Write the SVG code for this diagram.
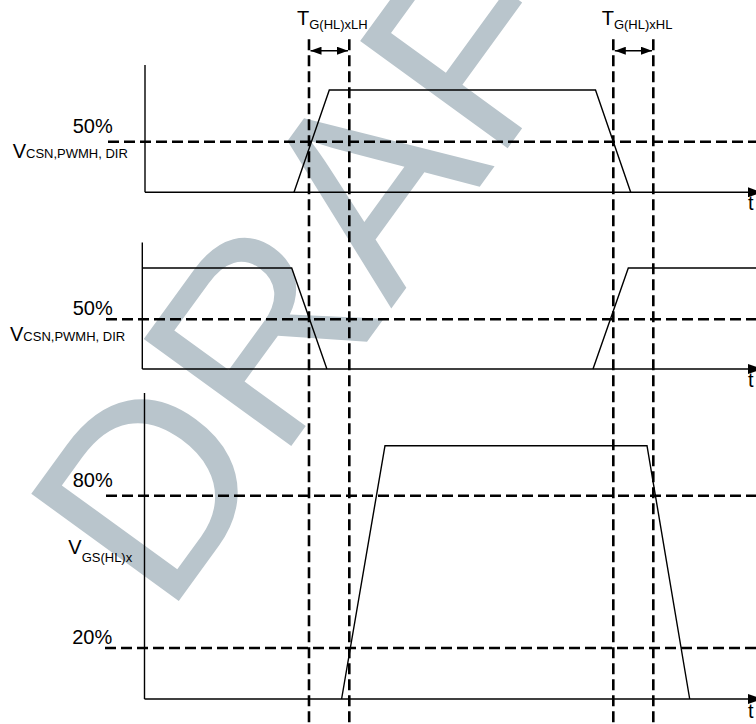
<svg xmlns="http://www.w3.org/2000/svg" width="756" height="724" viewBox="0 0 756 724">
  <style>
    .bg { fill: #ffffff; }
    .wm { fill: #b9c5cc; font-family: "Liberation Sans", Arial, sans-serif; font-size: 265px; }
    .axis { stroke: #000; stroke-width: 1.4; fill: none; }
    .wave { stroke: #000; stroke-width: 1.4; fill: none; stroke-linejoin: miter; }
    .dash { stroke: #000; stroke-width: 2.6; fill: none; stroke-dasharray: 11 5; }
    .dim { stroke: #000; stroke-width: 1.4; fill: none; }
    .lbl { font-family: "Liberation Sans", Arial, sans-serif; font-size: 20px; fill: #000; }
    .sub { font-size: 13px; }
  </style>
  <defs>
    <marker id="axArrow" markerUnits="userSpaceOnUse" markerWidth="14" markerHeight="10" viewBox="0 0 14 10" refX="14" refY="5" orient="auto">
      <path d="M0,0 L14,5 L0,10 z" fill="#000"/>
    </marker>
    <marker id="dimArrow" markerUnits="userSpaceOnUse" markerWidth="11" markerHeight="8" viewBox="0 0 11 8" refX="11" refY="4" orient="auto-start-reverse">
      <path d="M0,0 L11,4 L0,8 z" fill="#000"/>
    </marker>
  </defs>
  <rect class="bg" x="0" y="0" width="756" height="724"/>

  <g id="watermark">
    <text class="wm" transform="translate(166,618.5) rotate(-54)" x="0" y="0">DRAFT</text>
  </g>

  <g id="panel1">
    <line class="axis" x1="145" y1="65" x2="145" y2="192.3"/>
    <line class="axis" x1="145" y1="192.3" x2="762" y2="192.3" marker-end="url(#axArrow)"/>
    <polyline class="wave" points="294,192.3 329.3,90 595.5,90 630.7,192.3"/>
    <text class="lbl" x="748" y="210">t</text>
  </g>

  <g id="panel2">
    <line class="axis" x1="142.3" y1="242.5" x2="142.3" y2="369"/>
    <line class="axis" x1="142.3" y1="369" x2="762" y2="369" marker-end="url(#axArrow)"/>
    <polyline class="wave" points="142.3,268 291.7,268 326.9,369"/>
    <polyline class="wave" points="593,369 628.3,268 756,268"/>
    <text class="lbl" x="748" y="387">t</text>
  </g>

  <g id="panel3">
    <line class="axis" x1="144.5" y1="393" x2="144.5" y2="699"/>
    <line class="axis" x1="144.5" y1="699" x2="762" y2="699" marker-end="url(#axArrow)"/>
    <polyline class="wave" points="341.6,699 385,445.7 647,445.7 689.7,699"/>
    <text class="lbl" x="748" y="718">t</text>
  </g>

  <g id="connectors">
    <line class="dash" x1="108" y1="141.7" x2="756" y2="141.7"/>
    <line class="dash" x1="106" y1="319.3" x2="756" y2="319.3"/>
    <line class="dash" x1="106" y1="495.7" x2="756" y2="495.7"/>
    <line class="dash" x1="105" y1="648" x2="756" y2="648"/>
    <line class="dash" x1="309" y1="39.3" x2="309" y2="724"/>
    <line class="dash" x1="349.3" y1="39.3" x2="349.3" y2="724"/>
    <line class="dash" x1="613.3" y1="39.3" x2="613.3" y2="724"/>
    <line class="dash" x1="653.3" y1="39.3" x2="653.3" y2="724"/>
    <line class="dim" x1="310.5" y1="50.7" x2="348" y2="50.7" marker-start="url(#dimArrow)" marker-end="url(#dimArrow)"/>
    <line class="dim" x1="614.8" y1="50.7" x2="652" y2="50.7" marker-start="url(#dimArrow)" marker-end="url(#dimArrow)"/>
  </g>

  <g id="labels">
    <text class="lbl" x="297" y="25">T<tspan class="sub" dy="4">G(HL)xLH</tspan></text>
    <text class="lbl" x="601.7" y="25">T<tspan class="sub" dy="4">G(HL)xHL</tspan></text>
    <text class="lbl" x="72.7" y="133.3">50%</text>
    <text class="lbl" x="12.7" y="158.3">V<tspan class="sub">CSN,PWMH, DIR</tspan></text>
    <text class="lbl" x="72.7" y="315">50%</text>
    <text class="lbl" x="10" y="340.7">V<tspan class="sub">CSN,PWMH, DIR</tspan></text>
    <text class="lbl" x="72.7" y="486.7">80%</text>
    <text class="lbl" x="68.3" y="554">V<tspan class="sub" dy="8">GS(HL)x</tspan></text>
    <text class="lbl" x="72.2" y="644.3">20%</text>
  </g>
</svg>
